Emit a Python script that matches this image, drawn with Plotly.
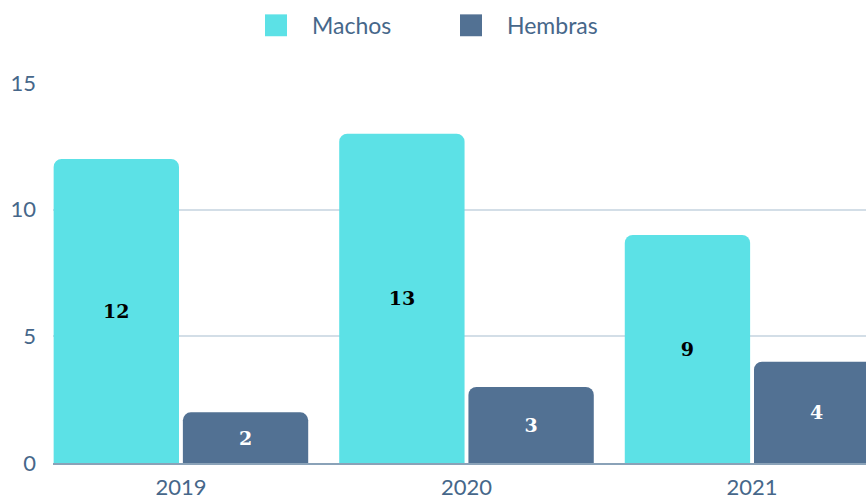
import plotly.graph_objects as go

years = ["2019", "2020", "2021"]
machos = [12, 13, 9]
hembras = [2, 3, 4]
series_names = ["Machos", "Hembras"]
colors = ["#5ce1e6", "#527193"]
label_colors = ["#000000", "#ffffff"]
y_ticks = [0, 5, 10, 15]

W, H = 866, 500
L, R, T, B = 53, 0, 83, 35
pw, ph = W - L - R, H - T - B

def px_x(x):
    return (x - L) / pw

def px_y(y):
    return (H - B - y) / ph

fig = go.Figure()
for name, vals, col, lc in zip(series_names, [machos, hembras], colors, label_colors):
    fig.add_trace(go.Bar(
        x=years, y=vals, name=name,
        marker=dict(color=col, cornerradius=8, line=dict(width=0)),
        text=[str(v) for v in vals],
        textposition="inside",
        insidetextanchor="middle",
        textangle=0,
        textfont=dict(family="DejaVu Serif", size=19, color=lc, weight="bold"),
        showlegend=False,
        hoverinfo="skip",
    ))

font_color = "#46678a"

# legend drawn as shapes + text
legend_items = [(265, 310), (460, 505)]
for (sx, tx), name, col in zip(legend_items, series_names, colors):
    fig.add_shape(type="rect", xref="paper", yref="paper",
                  x0=px_x(sx), x1=px_x(sx + 22), y0=px_y(36), y1=px_y(14),
                  fillcolor=col, line=dict(width=0), layer="above")
    fig.add_annotation(xref="paper", yref="paper", x=px_x(tx), y=px_y(25),
                       text=name, showarrow=False, xanchor="left", yanchor="middle",
                       font=dict(family="Lato", size=23, color=font_color))

fig.update_layout(
    width=W, height=H,
    margin=dict(l=L, r=R, t=T, b=B),
    paper_bgcolor="white", plot_bgcolor="white",
    barmode="group", bargap=0.095, bargroupgap=0.03,
    font=dict(family="Lato", size=20, color=font_color),
    xaxis=dict(range=[-0.448, 2.399], showgrid=False, showline=True,
               linecolor="#8aa2b8", linewidth=2, ticks="", ticklabelstandoff=4,
               tickfont=dict(family="Lato", size=22, color=font_color), fixedrange=True),
    yaxis=dict(range=[0, 15], tickvals=y_ticks, showgrid=True, gridcolor="#d3dee7",
               gridwidth=2, zeroline=False, showline=False, ticks="",
               ticklabelstandoff=16,
               tickfont=dict(family="Lato", size=22, color=font_color), fixedrange=True),
)

fig.write_html(
    "out.html",
    config={"displayModeBar": False},
    post_script="document.body.style.margin='0';document.body.style.overflow='hidden';",
)
